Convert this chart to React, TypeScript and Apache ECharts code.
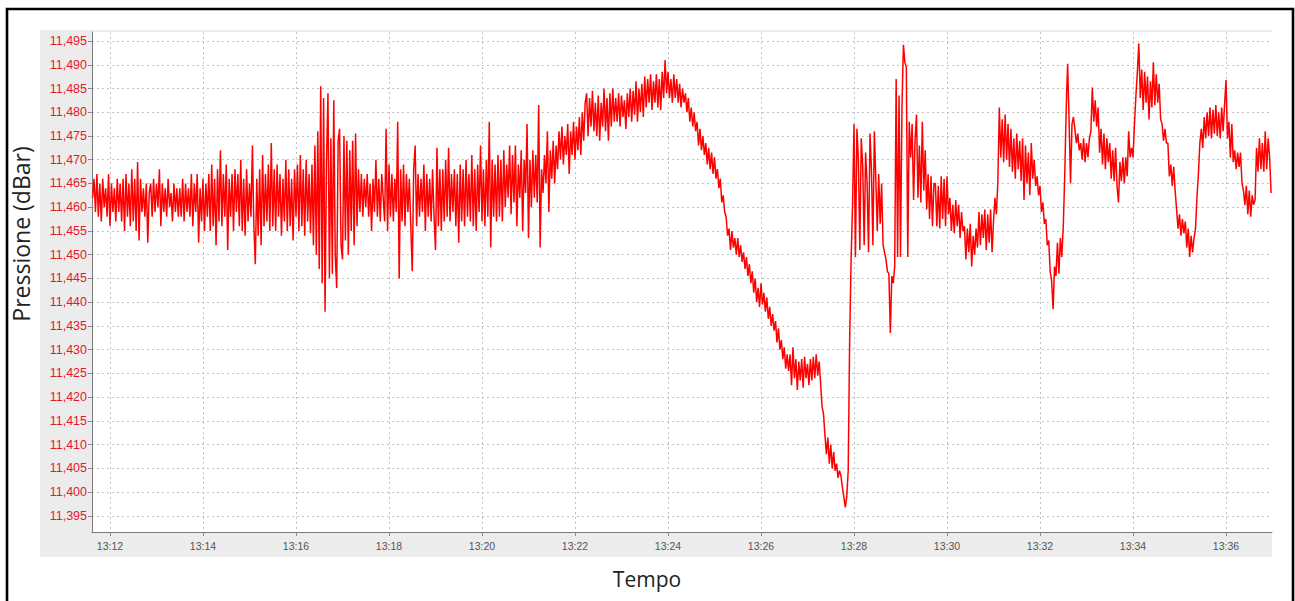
import React, { useEffect, useRef } from "react";
import * as echarts from "echarts";

// Sampling of the record: minutes after 13:00, one sample every 1.875 s
const SAMPLE_START_MIN = 11.625;
const SAMPLE_STEP_MIN = 1 / 32;

// Pressure readings (dBar)
const pressure: number[] = [
  11.462, 11.466, 11.459, 11.467, 11.458, 11.465, 11.457, 11.466, 11.460, 11.464, 11.458, 11.467, 11.456, 11.465, 11.459, 11.464, 11.457, 11.466, 11.459, 11.465,
  11.457, 11.466, 11.455, 11.467, 11.458, 11.465, 11.456, 11.468, 11.457, 11.466, 11.455, 11.4695, 11.453, 11.466, 11.459, 11.464, 11.458, 11.465, 11.4525, 11.463,
  11.465, 11.458, 11.466, 11.459, 11.465, 11.460, 11.468, 11.456, 11.465, 11.459, 11.464, 11.458, 11.466, 11.460, 11.463, 11.457, 11.465, 11.459, 11.464, 11.458,
  11.464, 11.458, 11.466, 11.457, 11.465, 11.459, 11.464, 11.458, 11.467, 11.456, 11.465, 11.459, 11.467, 11.4525, 11.464, 11.457, 11.466, 11.455, 11.465, 11.458,
  11.467, 11.455, 11.469, 11.456, 11.466, 11.452, 11.468, 11.457, 11.472, 11.456, 11.467, 11.458, 11.469, 11.451, 11.466, 11.458, 11.467, 11.455, 11.468, 11.459,
  11.467, 11.456, 11.470, 11.455, 11.466, 11.454, 11.468, 11.457, 11.465, 11.458, 11.473, 11.456, 11.448, 11.466, 11.454, 11.468, 11.452, 11.471, 11.456, 11.467,
  11.457, 11.469, 11.455, 11.4735, 11.456, 11.468, 11.455, 11.469, 11.458, 11.467, 11.454, 11.466, 11.457, 11.470, 11.455, 11.468, 11.456, 11.466, 11.453, 11.468,
  11.458, 11.469, 11.455, 11.471, 11.456, 11.468, 11.454, 11.470, 11.457, 11.467, 11.4545, 11.469, 11.452, 11.473, 11.450, 11.476, 11.447, 11.4855, 11.444, 11.483,
  11.438, 11.470, 11.484, 11.445, 11.4745, 11.446, 11.4825, 11.450, 11.443, 11.474, 11.4765, 11.452, 11.449, 11.475, 11.453, 11.474, 11.450, 11.472, 11.455, 11.474,
  11.452, 11.4755, 11.456, 11.468, 11.459, 11.467, 11.458, 11.466, 11.460, 11.467, 11.458, 11.465, 11.455, 11.466, 11.459, 11.470, 11.458, 11.466, 11.457, 11.467,
  11.462, 11.457, 11.4765, 11.455, 11.469, 11.458, 11.467, 11.457, 11.466, 11.459, 11.478, 11.445, 11.468, 11.457, 11.469, 11.456, 11.467, 11.459, 11.466, 11.456,
  11.4465, 11.468, 11.473, 11.456, 11.467, 11.458, 11.466, 11.459, 11.469, 11.455, 11.467, 11.458, 11.466, 11.457, 11.468, 11.458, 11.451, 11.4725, 11.456, 11.468,
  11.455, 11.468, 11.457, 11.470, 11.458, 11.4725, 11.457, 11.467, 11.459, 11.468, 11.456, 11.467, 11.4525, 11.469, 11.457, 11.468, 11.456, 11.470, 11.458, 11.467,
  11.457, 11.471, 11.456, 11.468, 11.455, 11.469, 11.459, 11.473, 11.457, 11.468, 11.456, 11.470, 11.458, 11.478, 11.4515, 11.470, 11.458, 11.469, 11.457, 11.471,
  11.458, 11.470, 11.457, 11.472, 11.460, 11.469, 11.462, 11.473, 11.4585, 11.471, 11.461, 11.473, 11.456, 11.469, 11.462, 11.472, 11.455, 11.470, 11.463, 11.4775,
  11.4535, 11.470, 11.460, 11.472, 11.462, 11.471, 11.461, 11.4815, 11.4515, 11.468, 11.463, 11.471, 11.465, 11.476, 11.459, 11.472, 11.466, 11.474, 11.465, 11.473,
  11.468, 11.476, 11.470, 11.477, 11.469, 11.475, 11.471, 11.4775, 11.467, 11.476, 11.471, 11.478, 11.470, 11.477, 11.472, 11.479, 11.471, 11.480, 11.474, 11.482,
  11.484, 11.475, 11.483, 11.477, 11.4845, 11.476, 11.482, 11.475, 11.4835, 11.474, 11.482, 11.477, 11.485, 11.476, 11.483, 11.474, 11.484, 11.477, 11.485, 11.478,
  11.483, 11.478, 11.484, 11.477, 11.4835, 11.479, 11.4825, 11.4765, 11.484, 11.479, 11.485, 11.478, 11.4845, 11.4795, 11.4865, 11.478, 11.485, 11.480, 11.486, 11.479,
  11.4875, 11.481, 11.487, 11.482, 11.488, 11.4805, 11.4865, 11.482, 11.488, 11.481, 11.487, 11.4805, 11.4885, 11.483, 11.491, 11.484, 11.4885, 11.483, 11.487, 11.482,
  11.488, 11.483, 11.487, 11.482, 11.486, 11.481, 11.485, 11.482, 11.484, 11.480, 11.483, 11.478, 11.481, 11.477, 11.480, 11.476, 11.478, 11.473, 11.4765, 11.472,
  11.475, 11.471, 11.4735, 11.469, 11.4725, 11.468, 11.4715, 11.467, 11.4705, 11.466, 11.468, 11.464, 11.466, 11.461, 11.4625, 11.459, 11.458, 11.454, 11.4555, 11.451,
  11.455, 11.4515, 11.4535, 11.450, 11.4535, 11.4495, 11.452, 11.4485, 11.4505, 11.447, 11.4495, 11.4455, 11.448, 11.444, 11.4465, 11.442, 11.445, 11.440, 11.443, 11.439,
  11.444, 11.4395, 11.442, 11.438, 11.441, 11.4365, 11.439, 11.435, 11.4375, 11.434, 11.436, 11.4315, 11.4345, 11.430, 11.432, 11.428, 11.4305, 11.426, 11.429, 11.4255,
  11.429, 11.4225, 11.4305, 11.424, 11.428, 11.4215, 11.4275, 11.4235, 11.428, 11.422, 11.4285, 11.424, 11.427, 11.4225, 11.428, 11.4235, 11.4285, 11.424, 11.429, 11.4245,
  11.4275, 11.423, 11.418, 11.4165, 11.412, 11.408, 11.4115, 11.406, 11.410, 11.405, 11.4085, 11.4045, 11.406, 11.403, 11.4045, 11.4035, 11.401, 11.399, 11.3968, 11.399,
  11.4045, 11.432, 11.449, 11.4605, 11.4775, 11.4495, 11.4765, 11.470, 11.451, 11.4745, 11.4685, 11.452, 11.4715, 11.465, 11.4505, 11.4755, 11.468, 11.452, 11.476, 11.466,
  11.455, 11.467, 11.4565, 11.465, 11.452, 11.4505, 11.449, 11.4465, 11.446, 11.4335, 11.4455, 11.444, 11.4475, 11.487, 11.4495, 11.4835, 11.4495, 11.481, 11.4942, 11.4905,
  11.4895, 11.4495, 11.478, 11.4705, 11.4775, 11.4615, 11.474, 11.4795, 11.462, 11.473, 11.461, 11.478, 11.4635, 11.472, 11.4595, 11.467, 11.4575, 11.4665, 11.456, 11.465,
  11.465, 11.456, 11.4645, 11.4555, 11.4665, 11.4575, 11.466, 11.456, 11.4665, 11.4585, 11.462, 11.455, 11.4605, 11.4545, 11.4615, 11.456, 11.4605, 11.4535, 11.459, 11.455,
  11.456, 11.449, 11.4555, 11.4505, 11.4565, 11.4475, 11.454, 11.450, 11.4555, 11.4515, 11.459, 11.452, 11.4585, 11.4535, 11.4595, 11.451, 11.4585, 11.4525, 11.4595, 11.4505,
  11.457, 11.462, 11.4585, 11.4655, 11.481, 11.4705, 11.4785, 11.4695, 11.4795, 11.470, 11.4775, 11.4685, 11.4765, 11.4675, 11.4745, 11.466, 11.4755, 11.468, 11.474, 11.4655,
  11.4745, 11.4615, 11.473, 11.465, 11.4715, 11.4625, 11.4735, 11.466, 11.470, 11.4645, 11.4665, 11.4625, 11.4645, 11.459, 11.461, 11.4565, 11.4575, 11.452, 11.453, 11.4465,
  11.4445, 11.4385, 11.4475, 11.4455, 11.4525, 11.446, 11.4535, 11.4495, 11.456, 11.4665, 11.4805, 11.4902, 11.4785, 11.465, 11.4775, 11.479, 11.4765, 11.4735, 11.4755, 11.472,
  11.4735, 11.470, 11.4745, 11.4695, 11.4735, 11.4705, 11.4745, 11.476, 11.4852, 11.478, 11.4825, 11.477, 11.481, 11.4715, 11.4765, 11.469, 11.4755, 11.468, 11.4745, 11.4695,
  11.4735, 11.466, 11.472, 11.4655, 11.4725, 11.4645, 11.461, 11.4695, 11.4655, 11.4705, 11.465, 11.4705, 11.4665, 11.476, 11.4705, 11.4725, 11.4705, 11.4775, 11.4835, 11.4885,
  11.4945, 11.483, 11.489, 11.4805, 11.4885, 11.482, 11.4875, 11.4785, 11.4865, 11.481, 11.4905, 11.4815, 11.488, 11.482, 11.486, 11.4785, 11.4775, 11.474, 11.4765, 11.4735,
  11.4735, 11.4665, 11.469, 11.4645, 11.4685, 11.4635, 11.4595, 11.4555, 11.4585, 11.454, 11.4575, 11.4545, 11.457, 11.4515, 11.4555, 11.4495, 11.454, 11.4505, 11.4535, 11.4555,
  11.462, 11.467, 11.4735, 11.4765, 11.4725, 11.479, 11.4745, 11.480, 11.475, 11.481, 11.4745, 11.4805, 11.4755, 11.4815, 11.475, 11.480, 11.4745, 11.481, 11.476, 11.4815,
  11.4868, 11.4745, 11.478, 11.4705, 11.4775, 11.4695, 11.472, 11.468, 11.4715, 11.4685, 11.4715, 11.465, 11.4635, 11.4605, 11.4645, 11.4585, 11.4635, 11.458, 11.4625, 11.4605,
  11.4615, 11.4725, 11.4675, 11.4745, 11.468, 11.4735, 11.4675, 11.476, 11.468, 11.4745, 11.4705, 11.463,
];

// X axis ticks (minutes after 13:00) and their labels
const xTickValues = [12, 14, 16, 18, 20, 22, 24, 26, 28, 30, 32, 34, 36];
const xTickLabels = ["13:12", "13:14", "13:16", "13:18", "13:20", "13:22", "13:24", "13:26", "13:28", "13:30", "13:32", "13:34", "13:36"];

// Y axis ticks and their labels
const yTickValues = [
  11.395, 11.4, 11.405, 11.41, 11.415, 11.42, 11.425, 11.43, 11.435, 11.44, 11.445,
  11.45, 11.455, 11.46, 11.465, 11.47, 11.475, 11.48, 11.485, 11.49, 11.495,
];
const yTickLabels = [
  "11,395", "11,400", "11,405", "11,410", "11,415", "11,420", "11,425", "11,430", "11,435", "11,440", "11,445",
  "11,450", "11,455", "11,460", "11,465", "11,470", "11,475", "11,480", "11,485", "11,490", "11,495",
];

const X_MIN = 11.613;
const X_MAX = 36.989;
const Y_MIN = 11.3916;
const Y_MAX = 11.4969;

const yAxisTitle = "Pressione (dBar)";
const xAxisTitle = "Tempo";

function labelFor(values: number[], labels: string[], v: number): string {
  for (let i = 0; i < values.length; i++) {
    if (Math.abs(values[i] - v) < 1e-6) return labels[i];
  }
  return "";
}

export default function App() {
  const ref = useRef<HTMLDivElement>(null);

  useEffect(() => {
    if (!ref.current) return;
    const chart = echarts.init(ref.current, undefined, { renderer: "svg" });
    const data = pressure.map((v, i) => [SAMPLE_START_MIN + i * SAMPLE_STEP_MIN, v]);
    const gridLine = { show: true, lineStyle: { color: "#c2c2c2", width: 1, type: [2, 3] as any } };

    chart.setOption({
      animation: false,
      backgroundColor: "transparent",
      graphic: [
        {
          type: "rect",
          z: -100,
          silent: true,
          shape: { x: 40, y: 30, width: 1232, height: 527 },
          style: { fill: "#ececec" },
        },
        {
          type: "rect",
          z: 100,
          silent: true,
          shape: { x: 7, y: 9, width: 1286, height: 620 },
          style: { fill: "none", stroke: "#000", lineWidth: 2.6 },
        },
        {
          type: "text",
          silent: true,
          x: 647,
          y: 579,
          style: {
            text: xAxisTitle, align: "center", verticalAlign: "middle",
            fontFamily: "Open Sans", fontSize: 21, fill: "#222",
          },
        },
        {
          type: "text",
          silent: true,
          x: 21,
          y: 234,
          rotation: Math.PI / 2,
          style: {
            text: yAxisTitle, align: "center", verticalAlign: "middle",
            fontFamily: "Open Sans", fontSize: 23, fill: "#222",
          },
        },
      ],
      grid: {
        left: 92,
        top: 32,
        width: 1180,
        height: 500,
        show: true,
        backgroundColor: "#ffffff",
        borderWidth: 0,
        containLabel: false,
      },
      xAxis: {
        type: "value",
        min: X_MIN,
        max: X_MAX,
        axisLine: { show: true, lineStyle: { color: "#7a7a7a", width: 1 } },
        axisTick: { show: true, customValues: xTickValues, length: 4, lineStyle: { color: "#8a8a8a" } },
        axisLabel: {
          customValues: xTickValues,
          formatter: (v: number) => labelFor(xTickValues, xTickLabels, v),
          color: "#555",
          fontSize: 10.5,
          fontFamily: "Liberation Sans",
          margin: 8,
        },
        splitLine: gridLine,
      },
      yAxis: {
        type: "value",
        min: Y_MIN,
        max: Y_MAX,
        axisLine: { show: true, lineStyle: { color: "#7a7a7a", width: 1 } },
        axisTick: { show: true, customValues: yTickValues, length: 4, lineStyle: { color: "#8a8a8a" } },
        axisLabel: {
          customValues: yTickValues,
          formatter: (v: number) => labelFor(yTickValues, yTickLabels, v),
          color: "#e8162c",
          fontSize: 12.5,
          fontFamily: "Liberation Sans",
          margin: 5,
        },
        splitLine: gridLine,
      },
      series: [
        {
          type: "line",
          data,
          showSymbol: false,
          symbol: "none",
          lineStyle: { color: "#ff0000", width: 1.5 },
          itemStyle: { color: "#ff0000" },
        },
      ],
    });

    return () => chart.dispose();
  }, []);

  return (
    <div
      style={{ position: "fixed", left: 0, top: 0, width: 1295, height: 601, background: "#ffffff" }}
    >
      <div ref={ref} style={{ width: 1295, height: 601 }} />
    </div>
  );
}
